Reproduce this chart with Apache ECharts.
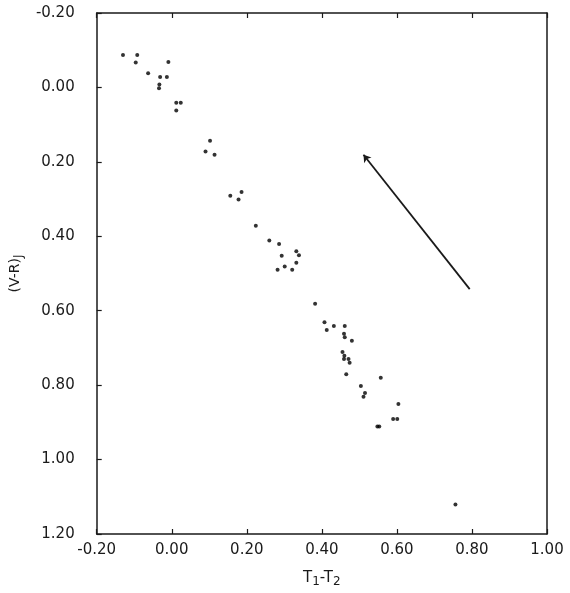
<!DOCTYPE html>
<html><head><meta charset="utf-8">
<script src="https://cdn.jsdelivr.net/npm/echarts@6/dist/echarts.min.js"></script>
<style>html,body{margin:0;padding:0;background:#fff}#c{width:570px;height:593px}</style>
</head><body><div id="c"></div>
<script>
// T1-T2 values
const xVals = [-0.130,-0.092,-0.096,-0.063,-0.031,-0.013,-0.009,-0.033,-0.034,0.012,0.024,0.012,
  0.102,0.090,0.114,0.156,0.186,0.178,0.224,0.260,0.286,0.332,0.339,0.293,0.332,0.301,0.282,0.321,
  0.382,0.407,0.413,0.432,0.461,0.459,0.461,0.480,0.455,0.460,0.459,0.471,0.474,0.465,0.557,0.504,
  0.515,0.511,0.604,0.590,0.601,0.548,0.553,0.756];
// (V-R)J values
const yVals = [-0.087,-0.087,-0.067,-0.038,-0.028,-0.028,-0.068,-0.008,0.002,0.041,0.041,0.062,
  0.143,0.172,0.181,0.291,0.281,0.301,0.372,0.411,0.421,0.440,0.451,0.452,0.471,0.481,0.490,0.490,
  0.581,0.631,0.652,0.641,0.641,0.662,0.671,0.681,0.711,0.721,0.730,0.730,0.740,0.771,0.780,0.802,
  0.821,0.831,0.851,0.891,0.891,0.911,0.911,1.121];
// reddening arrow: tail -> head
const arrowTail = [0.794, 0.542];
const arrowHead = [0.511, 0.181];
const xTicks = ['-0.20','0.00','0.20','0.40','0.60','0.80','1.00'];
const yTicks = ['-0.20','0.00','0.20','0.40','0.60','0.80','1.00','1.20'];

const font = 'DejaVu Sans';
const ink = '#1a1a1a';
const fmt = v => (v < 0 ? '-' : '') + Math.abs(v).toFixed(2);
const pts = xVals.map((x, i) => [x, yVals[i]]);

const chart = echarts.init(document.getElementById('c'));
chart.setOption({
  animation: false,
  backgroundColor: '#fff',
  grid: { left: 95, right: 23, top: 13, bottom: 54 },
  xAxis: [{
    type: 'value', min: -0.2, max: 1.0, interval: 0.2, position: 'bottom',
    axisLine: { show: true, onZero: false, lineStyle: { color: ink, width: 1.5 } },
    axisTick: { show: true, inside: true, length: 5, lineStyle: { color: ink, width: 1.2 } },
    splitLine: { show: false },
    axisLabel: { color: ink, fontFamily: font, fontSize: 15, margin: 9,
      formatter: v => xTicks.find(t => Math.abs(parseFloat(t) - v) < 1e-6) || fmt(v) },
    name: '{m|T}{s|1}{m|-T}{s|2}', nameLocation: 'middle', nameGap: 34,
    nameTextStyle: { rich: {
      m: { fontFamily: font, fontSize: 15, color: ink },
      s: { fontFamily: font, fontSize: 12, color: ink, verticalAlign: 'bottom', padding: [8, 0, 0, 0] } } }
  }, {
    type: 'value', min: -0.2, max: 1.0, interval: 0.2, position: 'top',
    axisLine: { show: true, onZero: false, lineStyle: { color: ink, width: 1.5 } },
    axisTick: { show: true, inside: true, length: 5, lineStyle: { color: ink, width: 1.2 } },
    axisLabel: { show: false }, splitLine: { show: false }
  }],
  yAxis: [{
    type: 'value', min: -0.2, max: 1.2, interval: 0.2, inverse: true, position: 'left',
    axisLine: { show: true, onZero: false, lineStyle: { color: ink, width: 1.5 } },
    axisTick: { show: true, inside: true, length: 5, lineStyle: { color: ink, width: 1.2 } },
    splitLine: { show: false },
    axisLabel: { color: ink, fontFamily: font, fontSize: 15, margin: 22,
      formatter: v => yTicks.find(t => Math.abs(parseFloat(t) - v) < 1e-6) || fmt(v) },
    name: '{m|(V-R)}{s|J}', nameLocation: 'middle', nameGap: 62, nameRotate: 90,
    nameTextStyle: { rich: {
      m: { fontFamily: font, fontSize: 14, color: ink },
      s: { fontFamily: font, fontSize: 12, color: ink, verticalAlign: 'bottom', padding: [8, 0, 0, 0] } } }
  }, {
    type: 'value', min: -0.2, max: 1.2, interval: 0.2, inverse: true, position: 'right',
    axisLine: { show: true, onZero: false, lineStyle: { color: ink, width: 1.5 } },
    axisTick: { show: false }, axisLabel: { show: false }, splitLine: { show: false }
  }],
  series: [{
    type: 'scatter', data: pts, symbol: 'circle', symbolSize: 4,
    itemStyle: { color: '#000' }
  }, {
    type: 'lines', coordinateSystem: 'cartesian2d',
    symbol: ['none', 'arrow'], symbolSize: [0, 7],
    lineStyle: { color: ink, width: 1.8, opacity: 1 },
    data: [{ coords: [arrowTail, arrowHead] }]
  }]
});
</script></body></html>
